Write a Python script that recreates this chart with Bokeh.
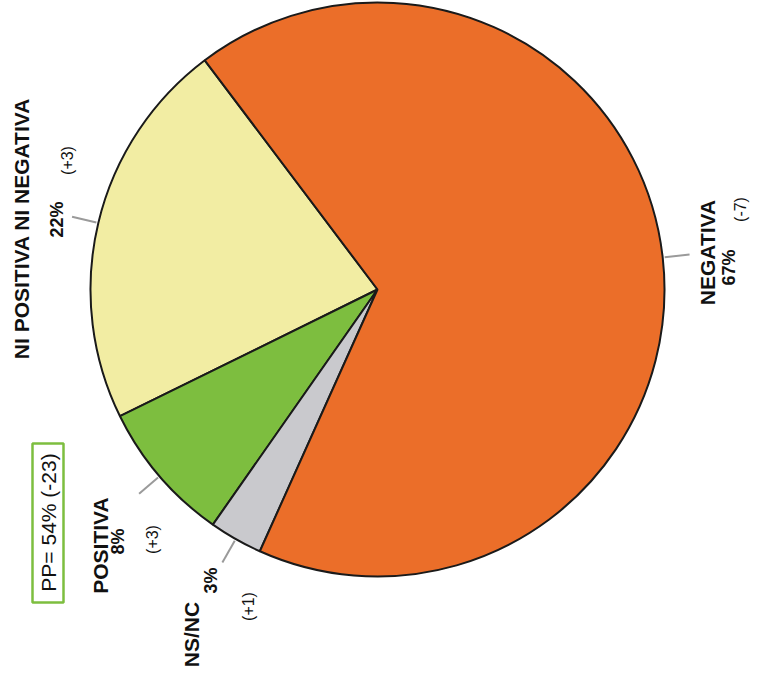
import numpy as np
from bokeh.plotting import figure
from bokeh.models import ColumnDataSource
from bokeh.core.properties import value
from bokeh.embed import file_html
from bokeh.resources import INLINE

# ---- data ----
categories = ["NI POSITIVA NI NEGATIVA", "POSITIVA", "NS/NC", "NEGATIVA"]
percent = [22, 8, 3, 67]
change = ["(+3)", "(+3)", "(+1)", "(-7)"]
pp_text = "PP= 54% (-23)"

# ---- style / layout ----
colors = ["#F2EDA3", "#7DBE3F", "#C9C9CD", "#EB6E29"]
W, H = 750, 671
start_deg = 127.0
cx, cy, R = 377.0, H - 289.0, 287.0

def sx(x):
    return x

def sy(y):
    return H - y

name_pos = [(20.5, 228), (100, 545), (191, 634), (707, 252)]
pct_pos = [(56, 219), (117, 541), (210, 580), (728, 267)]
chg_pos = [(67, 160), (152, 539), (248, 606), (740, 209)]

vals = np.array(percent, dtype=float)
cum = np.cumsum(vals)
start = np.deg2rad(start_deg + 360.0 * (cum - vals) / vals.sum())
end = np.deg2rad(start_deg + 360.0 * cum / vals.sum())
mid = (start + end) / 2

p = figure(width=W, height=H, x_range=(0, W), y_range=(0, H),
           output_backend="svg", toolbar_location=None, min_border=0)
p.axis.visible = False
p.grid.visible = False
p.outline_line_color = None
p.background_fill_color = "white"

src = ColumnDataSource(dict(start=start, end=end, color=colors, cat=categories))
p.wedge(x=cx, y=cy, radius=R, start_angle="start", end_angle="end",
        direction="anticlock", fill_color="color", line_color="#1a1a1a",
        line_width=2, source=src)

# leader lines
r0, r1 = R + 2, R + 27
p.segment(x0=cx + r0 * np.cos(mid), y0=cy + r0 * np.sin(mid),
          x1=cx + r1 * np.cos(mid), y1=cy + r1 * np.sin(mid),
          line_color="#9a9a9a", line_width=2)

font = value("Liberation Sans")
ang = np.pi / 2

p.text(x=[sx(a) for a, b in name_pos], y=[sy(b) for a, b in name_pos],
       text=categories, angle=ang, text_font=font, text_font_style="bold",
       text_font_size="21px", text_align="center", text_baseline="middle",
       text_color="#111111")
p.text(x=[sx(a) for a, b in pct_pos], y=[sy(b) for a, b in pct_pos],
       text=[f"{v}%" for v in percent], angle=ang, text_font=font,
       text_font_style="bold", text_font_size="18px", text_align="center",
       text_baseline="middle", text_color="#111111")
p.text(x=[sx(a) for a, b in chg_pos], y=[sy(b) for a, b in chg_pos],
       text=change, angle=ang, text_font=font, text_font_size="16px",
       text_align="center", text_baseline="middle", text_color="#111111")

# PP box
p.quad(left=sx(32), right=sx(63), top=sy(443), bottom=sy(602),
       fill_color="white", line_color="#7DBE3F", line_width=2.5)
p.text(x=[sx(47.5)], y=[sy(522)], text=[pp_text], angle=ang, text_font=font,
       text_font_size="21px", text_align="center", text_baseline="middle",
       text_color="#111111")

open("out.html", "w").write(file_html(p, INLINE))
